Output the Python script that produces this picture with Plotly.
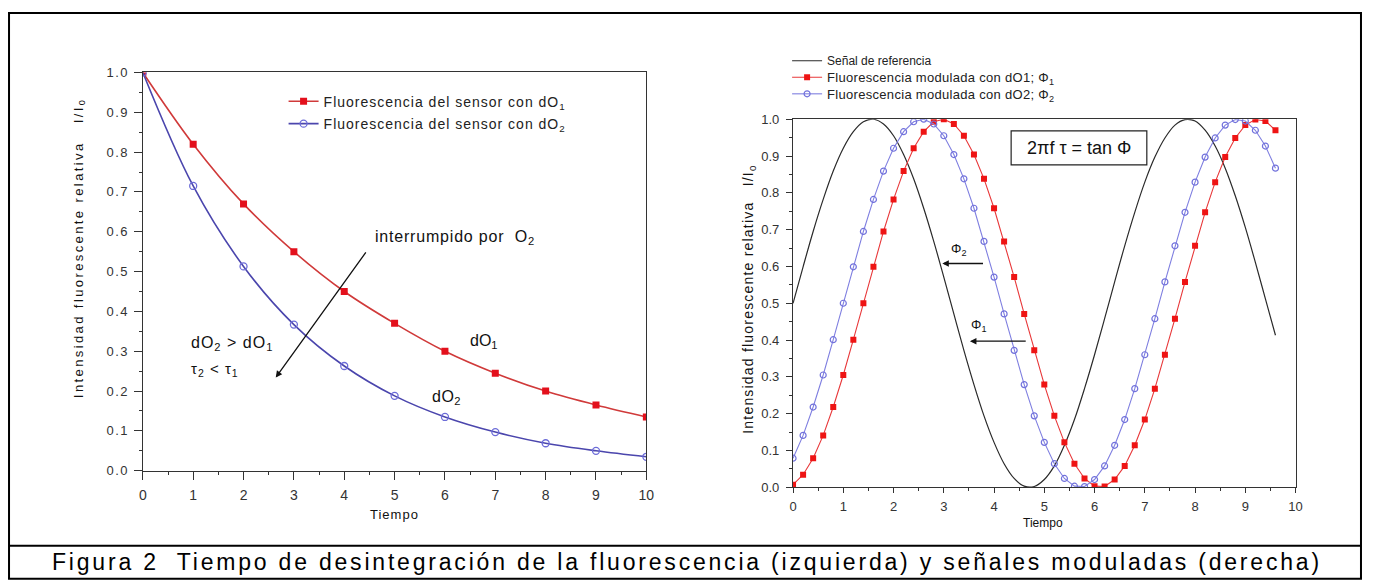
import plotly.graph_objects as go

# ---------------- data: left panel (decay) ----------------
t_left = [0, 1, 2, 3, 4, 5, 6, 7, 8, 9, 10]
dO1_decay = [1.0, 0.82, 0.67, 0.55, 0.45, 0.37, 0.30, 0.245, 0.20, 0.165, 0.135]
dO2_decay = [1.0, 0.715, 0.513, 0.367, 0.263, 0.188, 0.135, 0.097, 0.069, 0.05, 0.035]

# ---------------- data: right panel (modulated) ----------------
t_right = [0.0, 0.2, 0.4, 0.6, 0.8, 1.0, 1.2, 1.4, 1.6, 1.8, 2.0, 2.2, 2.4, 2.6, 2.8,
           3.0, 3.2, 3.4, 3.6, 3.8, 4.0, 4.2, 4.4, 4.6, 4.8, 5.0, 5.2, 5.4, 5.6, 5.8,
           6.0, 6.2, 6.4, 6.6, 6.8, 7.0, 7.2, 7.4, 7.6, 7.8, 8.0, 8.2, 8.4, 8.6, 8.8,
           9.0, 9.2, 9.4, 9.6]
ref_signal = [0.5, 0.599, 0.695, 0.782, 0.859, 0.921, 0.966, 0.993, 1.0, 0.987, 0.955,
              0.904, 0.838, 0.758, 0.668, 0.571, 0.471, 0.372, 0.279, 0.194, 0.122,
              0.064, 0.024, 0.003, 0.002, 0.021, 0.058, 0.114, 0.184, 0.268, 0.360,
              0.458, 0.558, 0.656, 0.747, 0.829, 0.897, 0.949, 0.984, 0.999, 0.995,
              0.970, 0.927, 0.867, 0.792, 0.706, 0.611, 0.512, 0.413]
mod_dO1 = [0.007, 0.034, 0.079, 0.141, 0.218, 0.305, 0.401, 0.5, 0.599, 0.695, 0.782,
           0.859, 0.921, 0.966, 0.993, 1.0, 0.987, 0.955, 0.904, 0.838, 0.758, 0.668,
           0.571, 0.471, 0.372, 0.279, 0.194, 0.122, 0.064, 0.024, 0.003, 0.002,
           0.021, 0.058, 0.114, 0.184, 0.268, 0.360, 0.458, 0.558, 0.656, 0.747,
           0.829, 0.897, 0.949, 0.984, 0.999, 0.995, 0.970]
mod_dO2 = [0.079, 0.141, 0.218, 0.305, 0.401, 0.5, 0.599, 0.695, 0.782, 0.859, 0.921,
           0.966, 0.993, 1.0, 0.987, 0.955, 0.904, 0.838, 0.758, 0.668, 0.571, 0.471,
           0.372, 0.279, 0.194, 0.122, 0.064, 0.024, 0.003, 0.002, 0.021, 0.058,
           0.114, 0.184, 0.268, 0.360, 0.458, 0.558, 0.656, 0.747, 0.829, 0.897,
           0.949, 0.984, 0.999, 0.995, 0.970, 0.927, 0.867]

x_ticks = [0, 1, 2, 3, 4, 5, 6, 7, 8, 9, 10]
y_ticks = [0.0, 0.1, 0.2, 0.3, 0.4, 0.5, 0.6, 0.7, 0.8, 0.9, 1.0]
y_tick_labels = ["0.0", "0.1", "0.2", "0.3", "0.4", "0.5", "0.6", "0.7", "0.8", "0.9", "1.0"]

FONT = "Liberation Sans, Arial, sans-serif"
OFF = 8                     # default page margin of the html body
FW, FH = 1375 - 2 * OFF, 588 - 2 * OFF


def px(sx):
    return (sx - OFF) / FW


def py(sy):
    return 1 - (sy - OFF) / FH


def ls(text, sp):
    return '<span style="letter-spacing:%spx">%s</span>' % (sp, text)


fig = go.Figure()

# left panel
fig.add_trace(go.Scatter(
    x=t_left, y=dO1_decay, mode="lines+markers", name=ls("Fluorescencia del sensor con dO<sub>1</sub>", 1.0),
    line=dict(color="#d03a3a", width=1.6, shape="spline"),
    marker=dict(symbol="square", size=7, color="#e3101c"),
    xaxis="x", yaxis="y", legend="legend"))
fig.add_trace(go.Scatter(
    x=t_left, y=dO2_decay, mode="lines+markers", name=ls("Fluorescencia del sensor con dO<sub>2</sub>", 1.0),
    line=dict(color="#4b46ad", width=1.6, shape="spline"),
    marker=dict(symbol="circle-open", size=7, color="#6c6cd8", line=dict(width=1.3)),
    xaxis="x", yaxis="y", legend="legend3"))

# right panel
fig.add_trace(go.Scatter(
    x=t_right, y=ref_signal, mode="lines", name="Señal de referencia",
    line=dict(color="#2a2a2a", width=1.2, shape="spline"),
    xaxis="x2", yaxis="y2", legend="legend2"))
fig.add_trace(go.Scatter(
    x=t_right, y=mod_dO1, mode="lines+markers", name=ls("Fluorescencia modulada con dO1; Φ<sub>1</sub>", 0.3),
    line=dict(color="#e8383a", width=1.1),
    marker=dict(symbol="square", size=6, color="#ee1414"),
    xaxis="x2", yaxis="y2", legend="legend4"))
fig.add_trace(go.Scatter(
    x=t_right, y=mod_dO2, mode="lines+markers", name=ls("Fluorescencia modulada con dO2; Φ<sub>2</sub>", 0.3),
    line=dict(color="#7f7fe0", width=1.1),
    marker=dict(symbol="circle-open", size=6, color="#7272dc", line=dict(width=1.2)),
    xaxis="x2", yaxis="y2", legend="legend5"))


def xax(domain, anchor, fsize, tlen, standoff):
    return dict(domain=domain, anchor=anchor, range=[0, 10], tickvals=x_ticks, ticks="outside",
                ticklen=tlen, tickwidth=1.2, tickcolor="#333", showline=True, mirror=True,
                linecolor="#333", linewidth=1.3, showgrid=False, zeroline=False,
                ticklabelstandoff=standoff,
                tickfont=dict(family=FONT, size=fsize, color="#333"),
                minor=dict(ticks="outside", ticklen=3, dtick=0.5, tickcolor="#333"))


def yax(domain, anchor, fsize, tlen, labels, standoff):
    return dict(domain=domain, anchor=anchor, range=[0, 1], tickvals=y_ticks, ticktext=labels,
                ticks="outside", ticklen=tlen, tickwidth=1.2, tickcolor="#333", showline=True,
                mirror=True, linecolor="#333", linewidth=1.3, showgrid=False, zeroline=False,
                ticklabelstandoff=standoff,
                tickfont=dict(family=FONT, size=fsize, color="#333"),
                minor=dict(ticks="outside", ticklen=3, dtick=0.05, tickcolor="#333"))


left_y_labels = [ls(t, 1.5) for t in y_tick_labels]


def note(text, x, y, xref, yref, size, **kw):
    d = dict(text=text, x=x, y=y, xref=xref, yref=yref, showarrow=False,
             xanchor="center", yanchor="middle", font=dict(family=FONT, size=size, color="#111"))
    d.update(kw)
    return d


annotations = [
    # axis titles
    note(ls("Intensidad fluorescente relativa   I/I<sub>0</sub>", 2.4), px(76), py(247), "paper", "paper", 13,
         textangle=-90),
    note(ls("Tiempo", 1), px(394), py(521), "paper", "paper", 13),
    note(ls("Intensidad fluorescente relativa   I/I<sub>0</sub>", 1.2), px(752), py(300), "paper", "paper", 14,
         textangle=-90),
    note("Tiempo", px(1048), py(530), "paper", "paper", 12),
    # left panel notes
    note(ls("interrumpido por  O<sub>2</sub>", 0.8), 4.57, 0.585, "x", "y", 16, xanchor="left"),
    dict(text="", x=2.64, y=0.234, ax=4.45, ay=0.552, xref="x", yref="y", axref="x", ayref="y",
         showarrow=True, arrowhead=2, arrowsize=1, arrowwidth=1.3, arrowcolor="#111"),
    note(ls("dO<sub>2</sub> > dO<sub>1</sub>", 1), 0.91, 0.32, "x", "y", 16, xanchor="left"),
    note(ls("τ<sub>2</sub> < τ<sub>1</sub>", 1), 0.91, 0.254, "x", "y", 15, xanchor="left"),
    note("dO<sub>1</sub>", 6.46, 0.324, "x", "y", 16, xanchor="left"),
    note(ls("dO<sub>2</sub>", 0.5), 5.7, 0.185, "x", "y", 16, xanchor="left"),
    # right panel notes
    note("2πf τ = tan Φ", 5.69, 0.922, "x2", "y2", 18),
    note("Φ<sub>2</sub>", 3.3, 0.645, "x2", "y2", 13),
    dict(text="", x=2.97, y=0.608, ax=3.81, ay=0.608, xref="x2", yref="y2", axref="x2", ayref="y2",
         showarrow=True, arrowhead=2, arrowsize=1, arrowwidth=1.3, arrowcolor="#111"),
    note("Φ<sub>1</sub>", 3.69, 0.44, "x2", "y2", 13),
    dict(text="", x=3.52, y=0.397, ax=4.66, ay=0.397, xref="x2", yref="y2", axref="x2", ayref="y2",
         showarrow=True, arrowhead=2, arrowsize=1, arrowwidth=1.3, arrowcolor="#111"),
    # caption
    note(ls("Figura 2  Tiempo de desintegración de la fluorescencia (izquierda) y señales moduladas (derecha)", 2.8),
         px(689), py(570), "paper", "paper", 23),
]
annotations[-1]["font"]["color"] = "#000"

shapes = [
    dict(type="rect", xref="paper", yref="paper", x0=px(5), x1=px(1369), y0=py(587), y1=py(6),
         line=dict(color="#000", width=2)),
    dict(type="line", xref="paper", yref="paper", x0=px(5), x1=px(1369), y0=py(553), y1=py(553),
         line=dict(color="#000", width=2)),
    dict(type="rect", xref="x2", yref="y2", x0=4.34, x1=7.04, y0=0.876, y1=0.968,
         line=dict(color="#222", width=1.2), fillcolor="white"),
]


def leg(sx, sy, fsize):
    return dict(x=px(sx), y=py(sy), xanchor="left", yanchor="middle", bgcolor="rgba(0,0,0,0)",
                borderwidth=0, font=dict(family=FONT, size=fsize, color="#222"), itemwidth=30)


fig.update_layout(
    width=FW, height=FH, autosize=False,
    margin=dict(l=0, r=0, t=0, b=0),
    paper_bgcolor="white", plot_bgcolor="white",
    font=dict(family=FONT, color="#222"),
    xaxis=xax([px(140), px(648)], "y", 14, 8, 3),
    yaxis=yax([py(476), py(67)], "x", 13, 8, left_y_labels, 2),
    xaxis2=xax([px(796), px(1303)], "y2", 13, 5, 2),
    yaxis2=yax([py(493), py(115)], "x2", 13, 6, y_tick_labels, 4),
    showlegend=True,
    legend=leg(282, 97, 14),
    legend3=leg(282, 120, 14),
    legend2=leg(790, 55, 12),
    legend4=leg(790, 72, 13),
    legend5=leg(790, 89, 13),
    annotations=annotations, shapes=shapes,
)

fig.write_html("out.html")
